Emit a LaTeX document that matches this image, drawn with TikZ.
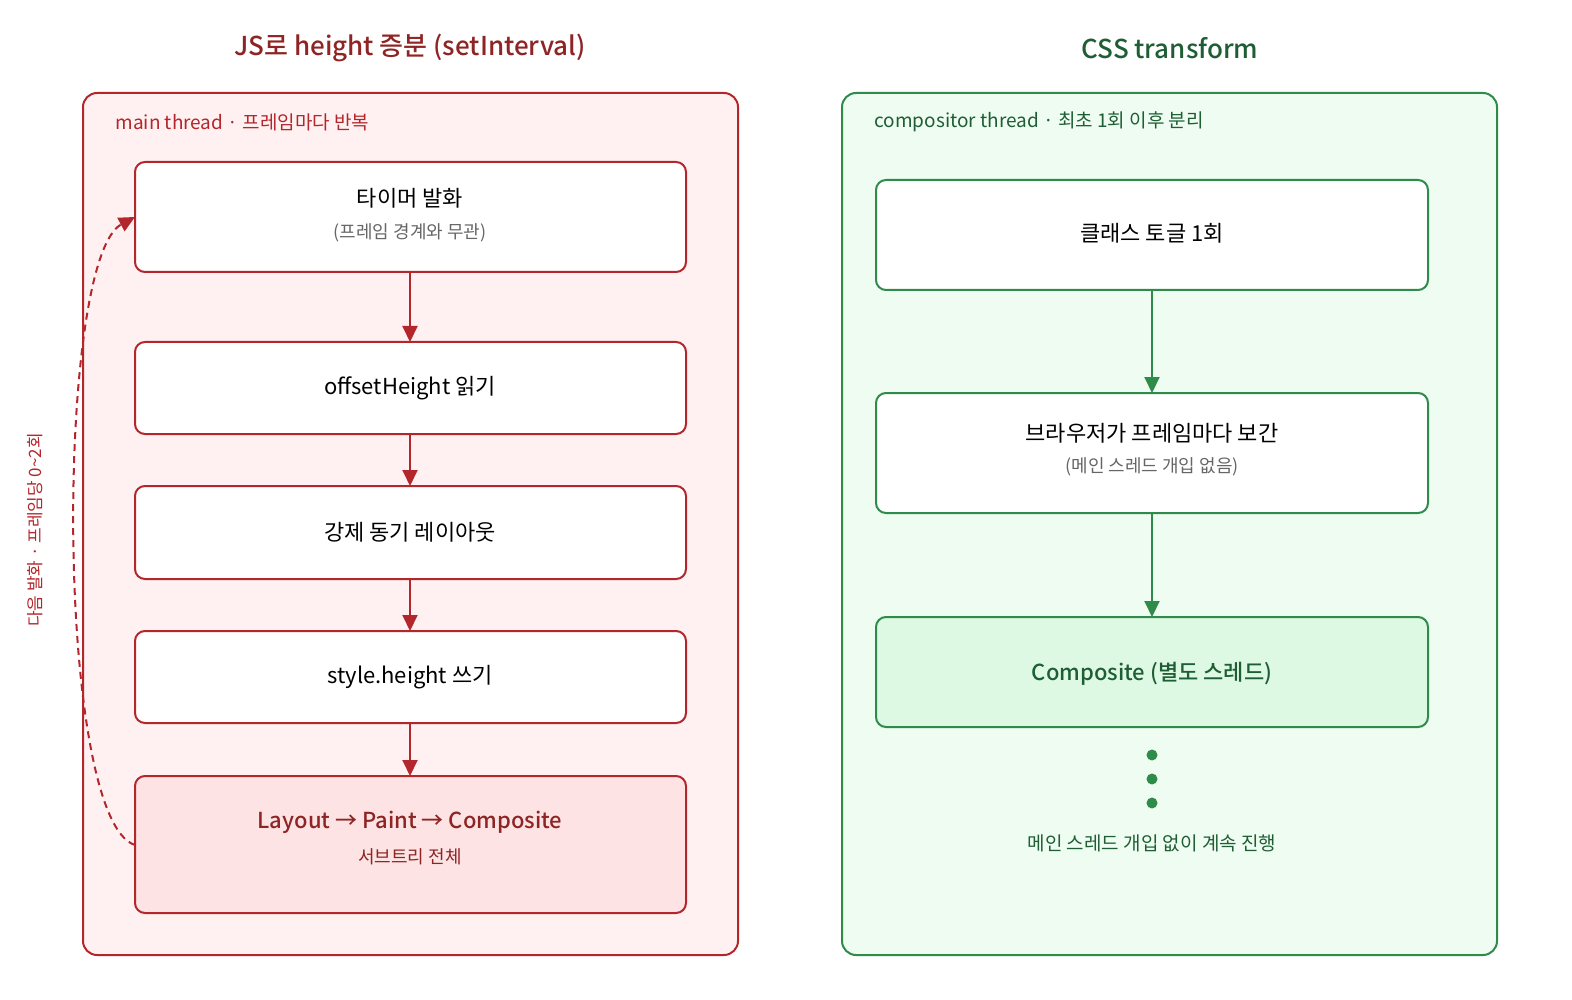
\documentclass[tikz,border=0pt]{standalone}
\usepackage{fontspec}
\setmainfont{Noto Sans CJK KR}
\newfontfamily\medf{Noto Sans CJK KR Medium}
\usetikzlibrary{arrows.meta}
\definecolor{rd}{HTML}{B3262B}
\definecolor{rdt}{HTML}{8E2424}
\definecolor{rdfill}{HTML}{FFF1F1}
\definecolor{rdbox}{HTML}{FDE3E3}
\definecolor{gr}{HTML}{2E8B4A}
\definecolor{grt}{HTML}{1F5E34}
\definecolor{grfill}{HTML}{EEFCF1}
\definecolor{grbox}{HTML}{DDF8E3}
\begin{document}
\begin{tikzpicture}[x=1pt,y=-1pt,
  panel/.style={rounded corners=14pt,line width=2pt},
  box/.style={rounded corners=10pt,line width=2pt,fill=white},
  ttl/.style={font=\fontsize{26}{30}\selectfont\medf},
  lbl/.style={font=\fontsize{19}{22}\selectfont,anchor=west},
  main/.style={font=\fontsize{22}{26}\selectfont},
  sub/.style={font=\fontsize{18}{21}\selectfont,text=black!60},
  ra/.style={-{Triangle[length=16pt,width=15pt]},line width=2pt,draw=rd},
  ga/.style={-{Triangle[length=16pt,width=15pt]},line width=2pt,draw=gr}]
\useasboundingbox (0,0) rectangle (1572,1000);
% left
\node[ttl,text=rdt] (tl) at (410,48) {JS로 height 증분 (setInterval)};
\draw[panel,draw=rd,fill=rdfill] (83,93) rectangle (738,955);
\node[lbl,text=rd] (ll) at (112,122) {main thread · 프레임마다 반복};
\draw[box,draw=rd] (135,162) rectangle (686,272);
\draw[box,draw=rd] (135,342) rectangle (686,434);
\draw[box,draw=rd] (135,486) rectangle (686,579);
\draw[box,draw=rd] (135,631) rectangle (686,723);
\draw[box,draw=rd,fill=rdbox] (135,776) rectangle (686,913);
\coordinate (b1t) at (410,272); \coordinate (b2t) at (410,342);
\coordinate (b2b) at (410,434); \coordinate (b3t) at (410,486);
\coordinate (b3b) at (410,579); \coordinate (b4t) at (410,631);
\coordinate (b4b) at (410,723); \coordinate (b5t) at (410,776);
\coordinate (b1l) at (135,217); \coordinate (b5l) at (135,845);
\node[main] (t1) at (410,198) {타이머 발화};
\node[sub] (s1) at (410,233) {(프레임 경계와 무관)};
\node[main] (t2) at (410,388) {offsetHeight 읽기};
\node[main] (t3) at (410,532) {강제 동기 레이아웃};
\node[main] (t4) at (410,677) {style.height 쓰기};
\node[main,text=rdt,font=\fontsize{22}{26}\selectfont\medf] (t5) at (410,822) {Layout → Paint → Composite};
\node[sub,text=rdt] (s5) at (410,857) {서브트리 전체};
\draw[ra] (b1t) -- (b2t);
\draw[ra] (b2b) -- (b3t);
\draw[ra] (b3b) -- (b4t);
\draw[ra] (b4b) -- (b5t);
\draw[ra,dash pattern=on 7pt off 5pt] (b5l) .. controls (55,820) and (55,260) .. (b1l);
\node[font=\fontsize{17}{20}\selectfont,text=rd,rotate=90] (dl) at (35,530) {다음 발화 · 프레임당 0\textasciitilde 2회};
% right
\node[ttl,text=grt] (tr) at (1170,48) {CSS transform};
\draw[panel,draw=gr,fill=grfill] (842,93) rectangle (1497,955);
\node[lbl,text=grt] (rl) at (871,122) {compositor thread · 최초 1회 이후 분리};
\draw[box,draw=gr] (876,180) rectangle (1428,290);
\draw[box,draw=gr] (876,393) rectangle (1428,513);
\draw[box,draw=gr,fill=grbox] (876,617) rectangle (1428,727);
\coordinate (g1b) at (1152,290); \coordinate (g2t) at (1152,393);
\coordinate (g2b) at (1152,513); \coordinate (g3t) at (1152,617);
\node[main] (u1) at (1152,233) {클래스 토글 1회};
\node[main] (u2) at (1152,433) {브라우저가 프레임마다 보간};
\node[sub] (v2) at (1152,467) {(메인 스레드 개입 없음)};
\node[main,text=grt,font=\fontsize{22}{26}\selectfont\medf] (u3) at (1152,674) {Composite (별도 스레드)};
\draw[ga] (g1b) -- (g2t);
\draw[ga] (g2b) -- (g3t);
\foreach \yy in {755,779,803} \fill[gr] (1152,\yy) circle (5.5pt);
\node[font=\fontsize{19}{22}\selectfont,text=grt] (nt) at (1152,843) {메인 스레드 개입 없이 계속 진행};
\end{tikzpicture}
\end{document}
